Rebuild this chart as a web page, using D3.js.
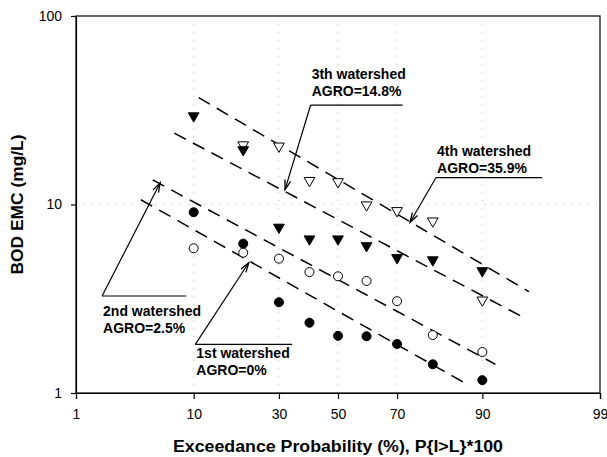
<html>
	<head>
		<script type="text/javascript" src="https://cdn.jsdelivr.net/npm/d3@7"></script>
		<style>
			body { margin: 0; background: #fff; }
			text { font-family: Arial, "Liberation Sans", sans-serif; }
		</style>
	</head>
	<body>
		<script type="text/javascript">

			// exceedance probabilities (%) of the plotted points
			var probs = [10, 20, 30, 40, 50, 60, 70, 80, 90];

			// BOD EMC (mg/L) per watershed
			var ws1 = [9.1, 6.2, 3.03, 2.36, 2.01, 2.0, 1.82, 1.42, 1.17];
			var ws2 = [5.86, 5.55, 5.16, 4.38, 4.16, 3.93, 3.07, 2.03, 1.65];
			var ws3 = [29.5, 19.5, 7.57, 6.56, 6.56, 6.04, 5.22, 5.08, 4.45];
			var ws4 = [null, 20.7, 20.4, 13.4, 13.2, 9.94, 9.27, 8.17, 3.11];

			// dashed fitted lines, start / end (probability %, mg/L)
			var fitP0 = [4.0, 5.0, 7.3, 10.8];
			var fitV0 = [10.6, 13.5, 23.9, 36.9];
			var fitP1 = [87.7, 91.9, 94.9, 95.5];
			var fitV1 = [1.10, 1.42, 2.54, 3.45];

			// tick labels
			var xTicks = [1, 10, 30, 50, 70, 90, 99];
			var yTicks = [1, 10, 100];

			// annotations: label lines, arrow tip, elbow, shelf end (data units)
			var annLabels = [["1st watershed", "AGRO=0%"], ["2nd watershed", "AGRO=2.5%"], ["3th watershed", "AGRO=14.8%"], ["4th watershed", "AGRO=35.9%"]];
			var annTip = [[21.4, 4.91], [5.72, 13.05], [31.9, 12.0], [73.9, 8.05]];
			var annElbow = [[10.26, 1.81], [1.81, 3.27], [40.4, 33.7], [80.8, 13.9]];
			var annShelf = [34.2, 8.9, 71.7, 96.5];
			var annTextDy = [14, 20, -26, -21.7];

			var width = 607,
				height = 457,
				margin = {top: 16, right: 7, bottom: 64, left: 76};

			// inverse normal cdf (Acklam)
			function probit(p) {
				var a = [-3.969683028665376e+01, 2.209460984245205e+02, -2.759285104469687e+02, 1.383577518672690e+02, -3.066479806614716e+01, 2.506628277459239e+00],
					b = [-5.447609879822406e+01, 1.615858368580409e+02, -1.556989798598866e+02, 6.680131188771972e+01, -1.328068155288572e+01],
					c = [-7.784894002430293e-03, -3.223964580411365e-01, -2.400758277161838e+00, -2.549732539343734e+00, 4.374664141464968e+00, 2.938163982698783e+00],
					d = [7.784695709041462e-03, 3.224671290700398e-01, 2.445134137142996e+00, 3.754408661907416e+00],
					plow = 0.02425, q, r;
				if (p < plow) {
					q = Math.sqrt(-2 * Math.log(p));
					return (((((c[0]*q+c[1])*q+c[2])*q+c[3])*q+c[4])*q+c[5]) / ((((d[0]*q+d[1])*q+d[2])*q+d[3])*q+1);
				}
				if (p <= 1 - plow) {
					q = p - 0.5; r = q * q;
					return (((((a[0]*r+a[1])*r+a[2])*r+a[3])*r+a[4])*r+a[5])*q / (((((b[0]*r+b[1])*r+b[2])*r+b[3])*r+b[4])*r+1);
				}
				q = Math.sqrt(-2 * Math.log(1 - p));
				return -(((((c[0]*q+c[1])*q+c[2])*q+c[3])*q+c[4])*q+c[5]) / ((((d[0]*q+d[1])*q+d[2])*q+d[3])*q+1);
			}

			var z = d3.scaleLinear()
				.domain([probit(0.01), probit(0.99)])
				.range([margin.left, width - margin.right]);

			var x = function(p) { return z(probit(p / 100)); };

			var y = d3.scaleLog()
				.domain([1, 100])
				.range([height - margin.bottom, margin.top]);

			var svg = d3.select('body').append('svg')
				.attr('width', width)
				.attr('height', height);

			//faint dotted grid
			var grid = svg.append('g').attr('stroke', '#c8c8c8').attr('stroke-dasharray', '1,7');
			grid.selectAll('.gx').data([10, 30, 50, 70, 90]).enter().append('line')
				.attr('x1', function(d){ return x(d); }).attr('x2', function(d){ return x(d); })
				.attr('y1', margin.top).attr('y2', height - margin.bottom);
			grid.selectAll('.gy').data([10]).enter().append('line')
				.attr('x1', margin.left).attr('x2', width - margin.right)
				.attr('y1', function(d){ return y(d); }).attr('y2', function(d){ return y(d); });

			//axes
			var xAxis = d3.axisBottom(z)
				.tickValues(xTicks.map(function(d){ return probit(d / 100); }))
				.tickFormat(function(d, i){ return xTicks[i]; })
				.tickSizeOuter(0).tickSize(6).tickPadding(10);

			var yAxis = d3.axisLeft(y)
				.tickValues(yTicks)
				.tickFormat(d3.format('d'))
				.tickSizeOuter(0).tickSize(5).tickPadding(9);

			var gx = svg.append('g')
				.attr('transform', 'translate(0,' + (height - margin.bottom) + ')')
				.call(xAxis);
			var gy = svg.append('g')
				.attr('transform', 'translate(' + margin.left + ',0)')
				.call(yAxis);
			[gx, gy].forEach(function(g){
				g.selectAll('text').style('font-size', '14px').attr('fill', '#000');
				g.selectAll('line,path').attr('stroke', '#000').attr('stroke-width', 1.2);
			});

			//frame
			svg.append('rect')
				.attr('x', margin.left).attr('y', margin.top)
				.attr('width', width - margin.left - margin.right)
				.attr('height', height - margin.top - margin.bottom)
				.attr('fill', 'none').attr('stroke', '#000').attr('stroke-width', 1.2);

			//titles
			svg.append('text')
				.attr('x', (margin.left + width - margin.right) / 2)
				.attr('y', 452)
				.attr('text-anchor', 'middle')
				.attr('textLength', 330).attr('lengthAdjust', 'spacingAndGlyphs')
				.style('font-size', '16px').style('font-weight', 'bold')
				.text('Exceedance Probability (%), P{I>L}*100');

			svg.append('text')
				.attr('transform', 'translate(23,' + y(10) + ') rotate(-90)')
				.attr('text-anchor', 'middle')
				.attr('textLength', 140).attr('lengthAdjust', 'spacingAndGlyphs')
				.style('font-size', '16px').style('font-weight', 'bold')
				.text('BOD EMC (mg/L)');

			//fitted lines
			svg.append('g').selectAll('line').data(fitP0).enter().append('line')
				.attr('x1', function(d){ return x(d); })
				.attr('y1', function(d, i){ return y(fitV0[i]); })
				.attr('x2', function(d, i){ return x(fitP1[i]); })
				.attr('y2', function(d, i){ return y(fitV1[i]); })
				.attr('stroke', '#000').attr('stroke-width', 1.5)
				.attr('stroke-dasharray', '13,8');

			//points
			function pts(vals) {
				return probs.map(function(p, i){ return {p: p, v: vals[i]}; })
					.filter(function(d){ return d.v != null; });
			}

			var tri = d3.symbol().type(d3.symbolTriangle).size(50);

			function drawCircles(vals, fill) {
				svg.append('g').selectAll('circle').data(pts(vals)).enter().append('circle')
					.attr('cx', function(d){ return x(d.p); })
					.attr('cy', function(d){ return y(d.v); })
					.attr('r', 4.5)
					.attr('fill', fill).attr('stroke', '#000').attr('stroke-width', 1);
			}

			function drawTriangles(vals, fill) {
				svg.append('g').selectAll('path').data(pts(vals)).enter().append('path')
					.attr('d', tri)
					.attr('transform', function(d){ return 'translate(' + x(d.p) + ',' + y(d.v) + ') rotate(180)'; })
					.attr('fill', fill).attr('stroke', '#000').attr('stroke-width', 1);
			}

			drawCircles(ws1, '#000');
			drawCircles(ws2, '#fff');
			drawTriangles(ws4, '#fff');
			drawTriangles(ws3, '#000');

			//annotations
			annLabels.forEach(function(lab, i){
				var g = svg.append('g'),
					ex = x(annElbow[i][0]), ey = y(annElbow[i][1]),
					tx = x(annTip[i][0]), ty = y(annTip[i][1]),
					sx = x(annShelf[i]);

				g.append('line')
					.attr('x1', ex).attr('y1', ey).attr('x2', sx).attr('y2', ey)
					.attr('stroke', '#000').attr('stroke-width', 1.2);
				g.append('line')
					.attr('x1', ex).attr('y1', ey).attr('x2', tx).attr('y2', ty)
					.attr('stroke', '#000').attr('stroke-width', 1.2);

				var ang = Math.atan2(ty - ey, tx - ex), len = 10, spread = 0.3;
				g.append('path')
					.attr('d', 'M' + (tx - len * Math.cos(ang - spread)) + ',' + (ty - len * Math.sin(ang - spread)) +
						'L' + tx + ',' + ty +
						'L' + (tx - len * Math.cos(ang + spread)) + ',' + (ty - len * Math.sin(ang + spread)))
					.attr('fill', 'none').attr('stroke', '#000').attr('stroke-width', 1.3);

				g.selectAll('text').data(lab).enter().append('text')
					.attr('x', ex + 1)
					.attr('y', function(d, j){ return ey + annTextDy[i] + j * 17; })
					.style('font-size', '14px').style('font-weight', 'bold')
					.text(function(d){ return d; });
			});

		</script>
	</body>
</html>
